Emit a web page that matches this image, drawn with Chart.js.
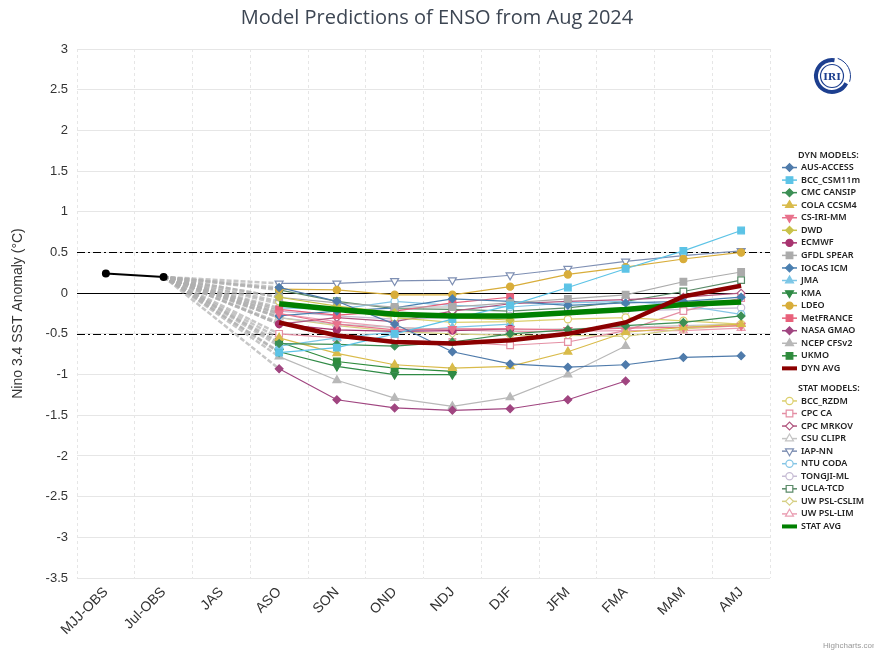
<!DOCTYPE html>
<html>
<head>
<meta charset="utf-8">
<title>Model Predictions of ENSO from Aug 2024</title>
<script src="https://cdn.jsdelivr.net/npm/chart.js@4.4.1/dist/chart.umd.min.js"></script>
<style>
  html, body { margin: 0; padding: 0; background: #fff; }
  #wrap { width: 874px; height: 654px; }
</style>
</head>
<body>
<div id="wrap"><canvas id="ensoChart" width="874" height="654"></canvas></div>
<script>
// x categories: two observed seasons, then the forecast seasons
const categories = ['MJJ-OBS', 'Jul-OBS', 'JAS', 'ASO', 'SON', 'OND', 'NDJ', 'DJF', 'JFM', 'FMA', 'MAM', 'AMJ'];
const firstForecast = 3; // forecasts start at ASO
const obsValues = [0.24, 0.2];

// dynamical models (ASO .. AMJ)
const AUS_ACCESS  = [0.07, -0.1, -0.38, -0.72, -0.87, -0.91, -0.88, -0.79, -0.77];
const BCC_CSM11m  = [-0.73, -0.67, -0.5, -0.32, -0.15, 0.07, 0.3, 0.52, 0.77];
const CMC_CANSIP  = [-0.62, -0.63, -0.65, -0.6, -0.5, -0.45, -0.4, -0.36, -0.28];
const COLA_CCSM4  = [-0.55, -0.74, -0.88, -0.92, -0.9, -0.72, -0.48, -0.42, -0.38];
const CS_IRI_MM   = [-0.25, -0.38, -0.45, -0.44, -0.44, -0.45, -0.43, -0.42, -0.4];
const DWD         = [-0.05, -0.16, -0.24, -0.3, -0.33];
const ECMWF       = [-0.38, -0.45, -0.47, -0.46, -0.44];
const GFDL_SPEAR  = [-0.05, -0.12, -0.17, -0.17, -0.12, -0.07, -0.02, 0.14, 0.26];
const IOCAS_ICM   = [-0.28, -0.22, -0.18, -0.07, -0.1, -0.15, -0.12, -0.1, -0.05];
const JMA         = [-0.65, -0.55, -0.48, -0.42, -0.38];
const KMA         = [-0.72, -0.9, -1.0, -1.0];
const LDEO        = [0.05, 0.04, -0.02, -0.02, 0.08, 0.23, 0.32, 0.42, 0.5];
const MetFRANCE   = [-0.2, -0.27, -0.22, -0.12, -0.05];
const NASA_GMAO   = [-0.93, -1.31, -1.41, -1.44, -1.42, -1.31, -1.08];
const NCEP_CFSv2  = [-0.78, -1.07, -1.29, -1.39, -1.28, -1.0, -0.65];
const UKMO        = [-0.6, -0.84, -0.92, -0.96];
const DYN_AVG     = [-0.36, -0.52, -0.6, -0.62, -0.58, -0.5, -0.36, -0.04, 0.09];

// statistical models (ASO .. AMJ)
const BCC_RZDM     = [-0.1, -0.2, -0.3, -0.36, -0.35, -0.32, -0.3, -0.34, -0.38];
const CPC_CA       = [-0.5, -0.55, -0.58, -0.6, -0.64, -0.6, -0.46, -0.22, -0.06];
const CPC_MRKOV    = [-0.38, -0.3, -0.35, -0.22, -0.13, -0.1, -0.08, -0.05, 0.0];
const CSU_CLIPR    = [-0.3, -0.38, -0.42, -0.45, -0.45, -0.44, -0.42, -0.4, -0.38];
const IAP_NN       = [0.12, 0.12, 0.15, 0.16, 0.22, 0.3, 0.39, 0.46, 0.52];
const NTU_CODA     = [-0.18, -0.2, -0.1, -0.15, -0.17, -0.12, -0.1, -0.15, -0.26];
const TONGJI_ML    = [-0.22, -0.28, -0.32, -0.3, -0.28, -0.25, -0.22, -0.2, -0.18];
const UCLA_TCD     = [0.04, -0.1, -0.19, -0.2, -0.22, -0.18, -0.1, 0.02, 0.16];
const UW_PSL_CSLIM = [-0.3, -0.4, -0.47, -0.5, -0.52, -0.52, -0.53, -0.44, -0.4];
const UW_PSL_LIM   = [-0.25, -0.35, -0.42, -0.45, -0.47, -0.47, -0.46, -0.46, -0.43];
const STAT_AVG     = [-0.13, -0.2, -0.26, -0.28, -0.28, -0.24, -0.2, -0.14, -0.11];

// name, values, colour, marker
const dynModels = [
    ['AUS-ACCESS', AUS_ACCESS, '#4f7bab', 'diamond'],
    ['BCC_CSM11m', BCC_CSM11m, '#5cc3e6', 'square'],
    ['CMC CANSIP', CMC_CANSIP, '#3c8f55', 'diamond'],
    ['COLA CCSM4', COLA_CCSM4, '#d9bb4a', 'triUp'],
    ['CS-IRI-MM', CS_IRI_MM, '#e8728c', 'triDown'],
    ['DWD', DWD, '#c9c24a', 'diamond'],
    ['ECMWF', ECMWF, '#a8336f', 'circle'],
    ['GFDL SPEAR', GFDL_SPEAR, '#ababab', 'square'],
    ['IOCAS ICM', IOCAS_ICM, '#4a7fb0', 'diamond'],
    ['JMA', JMA, '#7cc6e6', 'triUp'],
    ['KMA', KMA, '#2f8a45', 'triDown'],
    ['LDEO', LDEO, '#d8ad3a', 'circle'],
    ['MetFRANCE', MetFRANCE, '#e8607a', 'square'],
    ['NASA GMAO', NASA_GMAO, '#a04580', 'diamond'],
    ['NCEP CFSv2', NCEP_CFSv2, '#b8b8b8', 'triUp'],
    ['UKMO', UKMO, '#2e8b3c', 'square']
];
const statModels = [
    ['BCC_RZDM', BCC_RZDM, '#dccf6c', 'circle'],
    ['CPC CA', CPC_CA, '#e48fa4', 'square'],
    ['CPC MRKOV', CPC_MRKOV, '#b0567f', 'diamond'],
    ['CSU CLIPR', CSU_CLIPR, '#c4c4c4', 'triUp'],
    ['IAP-NN', IAP_NN, '#7e8fb3', 'triDown'],
    ['NTU CODA', NTU_CODA, '#86c6e6', 'circle'],
    ['TONGJI-ML', TONGJI_ML, '#c6bcd4', 'circle'],
    ['UCLA-TCD', UCLA_TCD, '#5a8a68', 'square'],
    ['UW PSL-CSLIM', UW_PSL_CSLIM, '#d6cf84', 'diamond'],
    ['UW PSL-LIM', UW_PSL_LIM, '#eaa0b4', 'triUp']
];

const markerMap = {
    circle:  { style: 'circle',   rot: 0,   r: 3.6 },
    square:  { style: 'rect',     rot: 0,   r: 4.7 },
    diamond: { style: 'rectRot',  rot: 0,   r: 3.9 },
    triUp:   { style: 'triangle', rot: 0,   r: 4.6 },
    triDown: { style: 'triangle', rot: 180, r: 4.6 }
};

function onAxis(values) {
    const row = categories.map(() => null);
    values.forEach((v, i) => { row[firstForecast + i] = v; });
    return row;
}

function connector(values) {
    // dashed grey link from the last observation to the first forecast
    const row = categories.map(() => null);
    row[1] = obsValues[1];
    row[firstForecast] = values[0];
    return {
        label: '_link', data: row, spanGaps: true,
        borderColor: 'rgba(175,175,175,0.7)', borderWidth: 2.5, borderDash: [5, 2],
        pointRadius: 0, order: 4
    };
}

function modelDataset(m, hollow) {
    const mk = markerMap[m[3]];
    return {
        label: m[0], data: onAxis(m[1]),
        borderColor: m[2], borderWidth: 1.2,
        pointStyle: mk.style, pointRotation: mk.rot, pointRadius: mk.r,
        pointBackgroundColor: hollow ? '#ffffff' : m[2],
        pointBorderColor: m[2], pointBorderWidth: 1.2,
        order: 2
    };
}

const datasets = [];
dynModels.concat(statModels).forEach(m => datasets.push(connector(m[1])));
datasets.push(connector(DYN_AVG), connector(STAT_AVG));
dynModels.forEach(m => datasets.push(modelDataset(m, false)));
statModels.forEach(m => datasets.push(modelDataset(m, true)));
datasets.push({ label: 'DYN AVG', data: onAxis(DYN_AVG), borderColor: '#8b0000', borderWidth: 4.5, pointRadius: 0, order: 1 });
datasets.push({ label: 'STAT AVG', data: onAxis(STAT_AVG), borderColor: '#008000', borderWidth: 5.5, pointRadius: 0, order: 1 });
datasets.push({
    label: 'OBS', data: obsValues.concat(categories.slice(2).map(() => null)),
    borderColor: '#000', borderWidth: 2, pointRadius: 3, pointBackgroundColor: '#000', pointBorderColor: '#000', order: 0
});

// zero line and dash-dot lines at +/-0.5
const refLines = {
    id: 'refLines',
    beforeDatasetsDraw(chart) {
        const { ctx, chartArea } = chart;
        const y = chart.scales.y;
        ctx.save();
        ctx.strokeStyle = '#000';
        ctx.lineWidth = 1;
        [0.5, -0.5].forEach(v => {
            const py = Math.round(y.getPixelForValue(v)) + 0.5;
            ctx.setLineDash([8, 3, 2, 3]);
            ctx.beginPath(); ctx.moveTo(chartArea.left, py); ctx.lineTo(chartArea.right, py); ctx.stroke();
        });
        ctx.setLineDash([]);
        const p0 = Math.round(y.getPixelForValue(0)) + 0.5;
        ctx.beginPath(); ctx.moveTo(chartArea.left, p0); ctx.lineTo(chartArea.right, p0); ctx.stroke();
        ctx.restore();
    }
};

// legend on the right, Highcharts style, plus logo and credit
const sideLegend = {
    id: 'sideLegend',
    afterDraw(chart) {
        const ctx = chart.ctx;
        const find = name => chart.data.datasets.find(d => d.label === name);
        const rows = [{ head: 'DYN MODELS:' }];
        dynModels.forEach(m => rows.push({ name: m[0], marker: m[3] }));
        rows.push({ name: 'DYN AVG', avg: true });
        rows.push({ gap: true });
        rows.push({ head: 'STAT MODELS:' });
        statModels.forEach(m => rows.push({ name: m[0], marker: m[3] }));
        rows.push({ name: 'STAT AVG', avg: true });

        ctx.save();
        ctx.font = '600 9px "Noto Sans"';
        ctx.textBaseline = 'middle';
        let y = 155;
        const step = 12.55;
        rows.forEach(r => {
            if (r.gap) { y += 7.5; return; }
            if (r.head) {
                ctx.fillStyle = '#222';
                ctx.fillText(r.head, 798, y);
                y += step;
                return;
            }
            const ds = find(r.name);
            ctx.strokeStyle = ds.borderColor;
            ctx.lineWidth = r.avg ? 4 : 1.5;
            ctx.beginPath(); ctx.moveTo(782, y); ctx.lineTo(797, y); ctx.stroke();
            if (!r.avg) {
                const mk = markerMap[r.marker];
                ctx.fillStyle = ds.pointBackgroundColor;
                ctx.strokeStyle = ds.borderColor;
                ctx.lineWidth = 1.2;
                Chart.helpers.drawPoint(ctx, { pointStyle: mk.style, rotation: mk.rot, radius: mk.r, borderWidth: 1.2 }, 789.5, y);
            }
            ctx.fillStyle = '#222';
            ctx.fillText(r.name, 801, y);
            y += step;
        });

        // IRI logo
        const cx = 832, cy = 76;
        ctx.strokeStyle = '#1d3f8f';
        ctx.lineWidth = 4;
        ctx.beginPath(); ctx.arc(cx, cy, 16, Math.PI * 0.15, Math.PI * 1.55); ctx.stroke();
        ctx.lineWidth = 1.2;
        ctx.beginPath(); ctx.arc(cx, cy, 11.5, 0, Math.PI * 2); ctx.stroke();
        ctx.lineWidth = 1;
        ctx.beginPath(); ctx.arc(cx, cy, 18.5, Math.PI * 1.6, Math.PI * 2.1); ctx.stroke();
        ctx.fillStyle = '#1d3f8f';
        ctx.font = 'bold 10px "DejaVu Serif"';
        ctx.textAlign = 'center';
        ctx.fillText('IRI', cx, cy + 1);

        // credit
        ctx.textAlign = 'left';
        ctx.fillStyle = '#999';
        ctx.font = '8px "Liberation Sans"';
        ctx.fillText('Highcharts.com', 823, 646);
        ctx.restore();
    }
};

Chart.defaults.font.family = '"Liberation Sans", Arial, sans-serif';
Chart.defaults.color = '#333';

new Chart(document.getElementById('ensoChart').getContext('2d'), {
    type: 'line',
    data: { labels: categories, datasets: datasets },
    options: {
        responsive: false,
        animation: false,
        layout: { padding: 0 },
        plugins: {
            legend: { display: false },
            tooltip: { enabled: false },
            title: {
                display: true,
                text: 'Model Predictions of ENSO from Aug 2024',
                color: '#3d4653',
                font: { size: 20, family: '"Open Sans", sans-serif', weight: 'normal' },
                padding: { top: 6, bottom: 19 }
            }
        },
        scales: {
            x: {
                offset: true,
                grid: { offset: true, color: '#e6e6e6', drawTicks: false },
                border: { display: false, dash: [3, 3] },
                ticks: { autoSkip: false, minRotation: 45, maxRotation: 45, padding: 6, font: { size: 14 }, color: '#333' },
                afterFit: scale => { scale.height = 76; }
            },
            y: {
                min: -3.5, max: 3,
                grid: { color: '#e6e6e6', drawTicks: false },
                border: { display: false },
                ticks: { stepSize: 0.5, padding: 9, font: { size: 13 }, color: '#333', callback: v => String(Math.round(v * 10) / 10) },
                title: { display: true, text: 'Nino 3.4 SST Anomaly (°C)', font: { size: 14 }, color: '#333', padding: { top: 10 } },
                afterFit: scale => { scale.width = 77; }
            },
            // empty axis that only reserves the legend column on the right
            legendSpace: {
                type: 'linear', position: 'right', display: true,
                grid: { display: false }, border: { display: false }, ticks: { display: false },
                afterFit: scale => { scale.width = 104; }
            }
        }
    },
    plugins: [refLines, sideLegend]
});
</script>
</body>
</html>
